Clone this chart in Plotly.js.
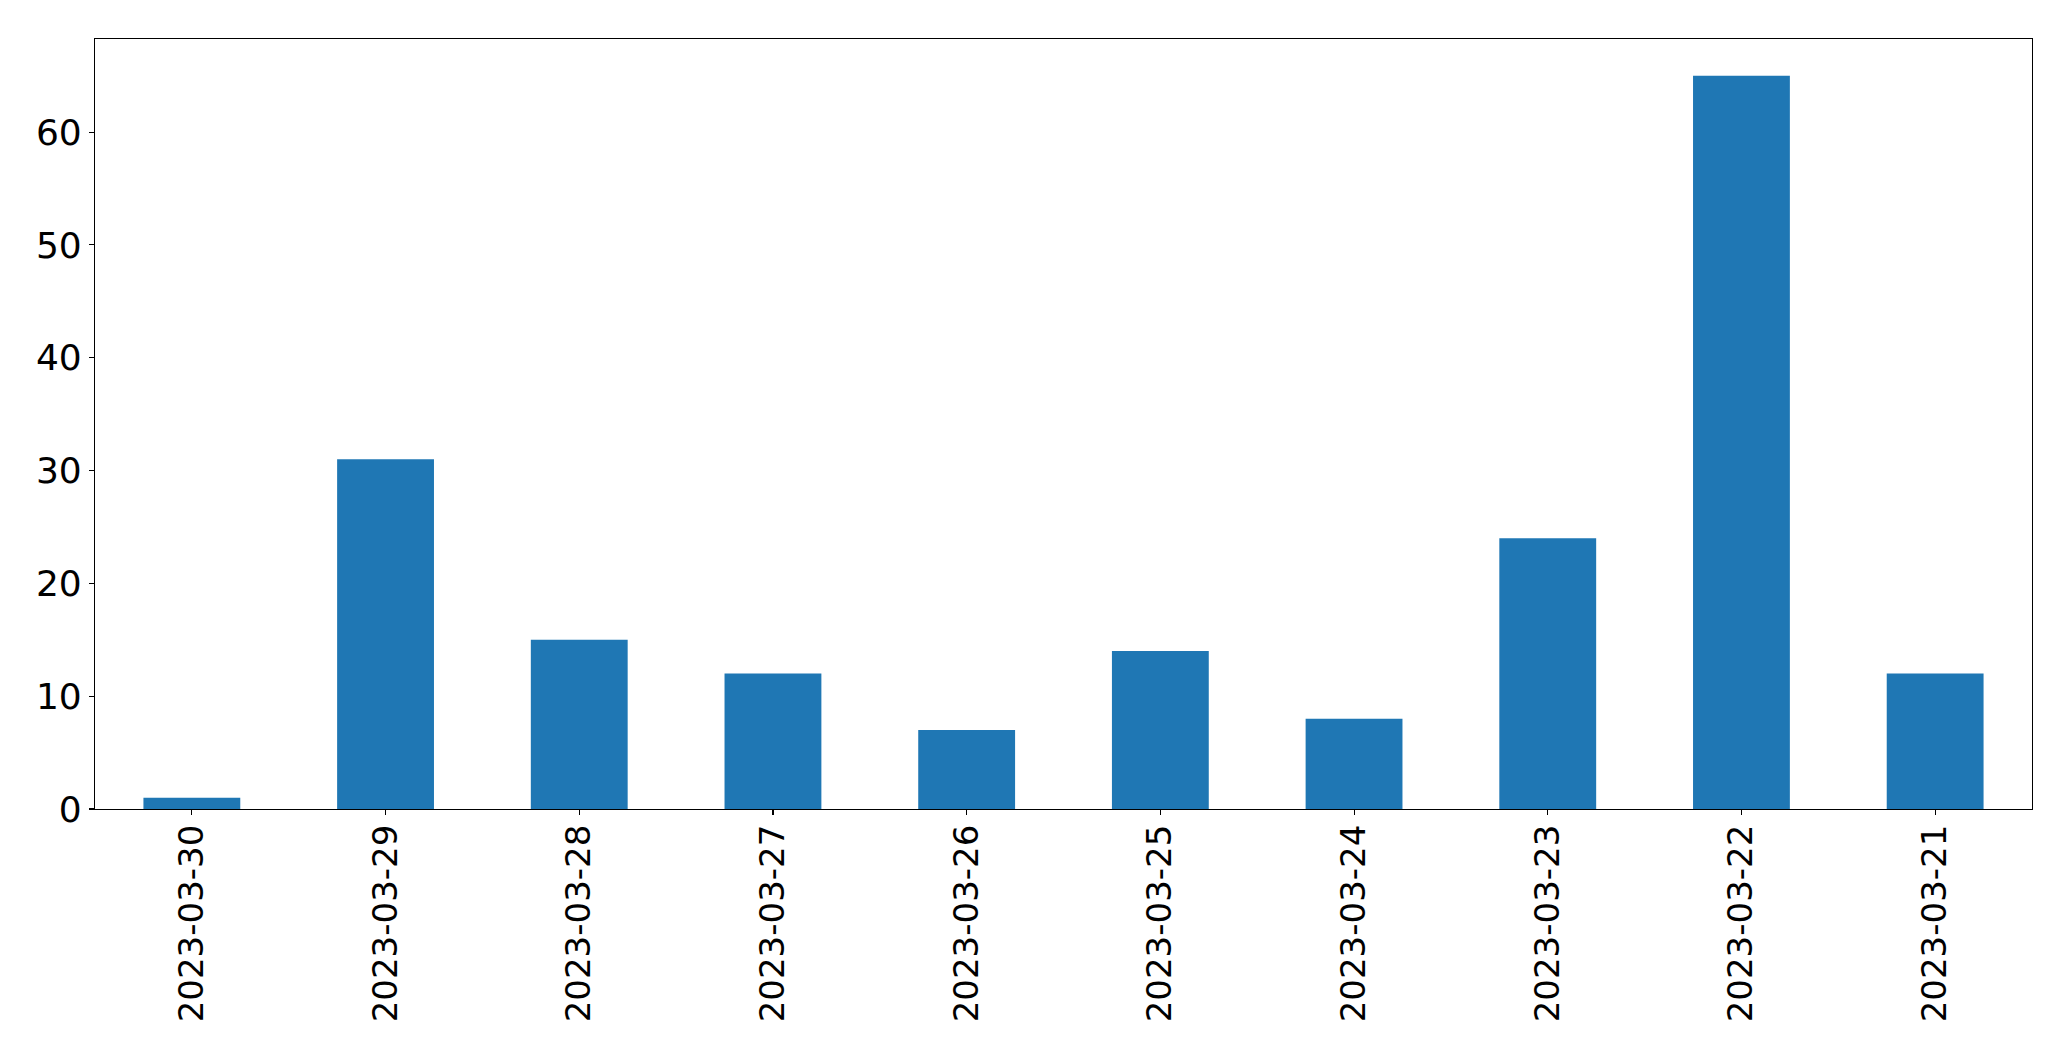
<!DOCTYPE html>
<html>
<head>
<meta charset="utf-8">
<script src="https://cdn.plot.ly/plotly-3.0.1.min.js"></script>
<style>
html,body{margin:0;padding:0;background:#fff;}
#chart{width:2071px;height:1061px;}
</style>
</head>
<body>
<div id="chart"></div>
<script>
const categories = ["2023-03-30","2023-03-29","2023-03-28","2023-03-27","2023-03-26","2023-03-25","2023-03-24","2023-03-23","2023-03-22","2023-03-21"];
const values = [1, 31, 15, 12, 7, 14, 8, 24, 65, 12];
const yTicks = [0, 10, 20, 30, 40, 50, 60];

const trace = {
  type: 'bar',
  x: categories,
  y: values,
  width: 0.5,
  marker: {color: '#1f77b4', line: {width: 0}},
  hoverinfo: 'x+y'
};

const layout = {
  width: 2071,
  height: 1061,
  margin: {l: 95, r: 39, t: 39, b: 252, pad: 0},
  paper_bgcolor: '#ffffff',
  plot_bgcolor: '#ffffff',
  font: {family: 'DejaVu Sans', size: 35, color: '#000000'},
  showlegend: false,
  bargap: 0.5,
  xaxis: {
    type: 'category',
    range: [-0.5, categories.length - 0.5],
    tickangle: -90,
    ticks: 'outside',
    ticklen: 5,
    tickwidth: 1.1,
    tickcolor: '#000',
    ticklabelstandoff: -4,
    showline: true,
    linecolor: '#000',
    linewidth: 1.1,
    mirror: true,
    showgrid: false,
    zeroline: false,
    tickfont: {family: 'DejaVu Sans', size: 34, color: '#000'}
  },
  yaxis: {
    range: [0, 68.25],
    tickvals: yTicks,
    ticktext: yTicks.map(String),
    ticks: 'outside',
    ticklen: 5,
    tickwidth: 1.1,
    tickcolor: '#000',
    showline: true,
    linecolor: '#000',
    linewidth: 1.1,
    mirror: true,
    showgrid: false,
    zeroline: false,
    tickfont: {family: 'DejaVu Sans', size: 36, color: '#000'}
  }
};

Plotly.newPlot('chart', [trace], layout, {displayModeBar: false, staticPlot: true});
</script>
</body>
</html>
